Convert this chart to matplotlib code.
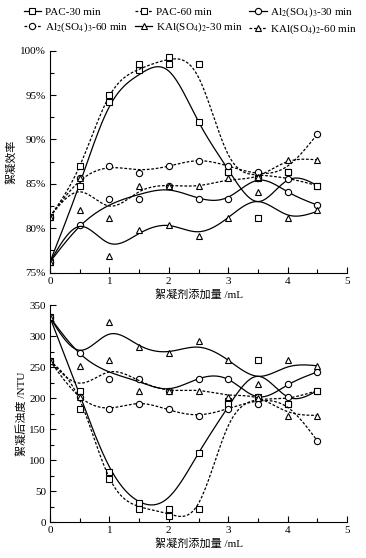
import numpy as np
import matplotlib
matplotlib.use("Agg")
import matplotlib.pyplot as plt
from matplotlib.ticker import MultipleLocator, FormatStrFormatter

plt.rcParams['font.family'] = ['Liberation Serif', 'Noto Sans CJK SC']
plt.rcParams['mathtext.fontset'] = 'stix'

dose = [0, 0.5, 1, 1.5, 2, 2.5, 3, 3.5, 4, 4.5]

# ---- top panel: removal efficiency (%) ----
# measured points
eff_pac30 = [76.2, 84.8, 94.2, 97.8, 98.5, 92.0, 86.3, 81.2, 86.3, 84.8]
eff_pac60 = [81.3, 87.0, 95.0, 98.5, 99.3, 98.5, 86.3, 85.6, 86.3, 84.8]
eff_al30 = [76.2, 80.4, 83.3, 83.3, 84.8, 83.3, 83.3, 85.6, 84.1, 82.6]
eff_al60 = [81.3, 85.6, 87.0, 86.2, 87.0, 87.6, 87.0, 86.3, 85.5, 90.6]
eff_kal30 = [76.2, 82.0, 76.9, 79.8, 80.4, 79.1, 81.2, 84.1, 81.2, 82.0]
eff_kal60 = [81.3, 85.6, 81.2, 84.8, 84.8, 84.8, 85.6, 85.8, 87.7, 87.7]
# fitted curves (read at each dose)
fit_eff_pac30 = [76.2, 85.0, 93.7, 97.3, 97.7, 92.0, 86.6, 83.0, 85.4, 84.8]
fit_eff_pac60 = [81.3, 87.0, 94.9, 97.9, 99.0, 97.0, 88.3, 86.0, 85.6, 84.8]
fit_eff_al30 = [76.2, 80.2, 82.6, 83.8, 84.3, 83.4, 83.5, 85.4, 84.1, 82.6]
fit_eff_al60 = [81.3, 85.3, 86.8, 86.6, 87.0, 87.6, 87.0, 86.2, 87.0, 90.6]
fit_eff_kal30 = [76.2, 80.2, 78.3, 79.4, 80.3, 79.6, 81.2, 83.0, 81.5, 81.9]
fit_eff_kal60 = [81.3, 84.1, 82.5, 84.1, 84.8, 84.8, 85.4, 85.9, 87.5, 87.7]

# ---- bottom panel: residual turbidity (NTU) ----
tur_pac30 = [330, 212, 81, 30, 20.5, 111, 195, 261, 191, 212]
tur_pac60 = [260, 182, 70, 20.5, 10, 20.5, 191, 201, 191, 212]
tur_al30 = [330, 272, 231, 231, 212, 231, 231, 202, 222, 242]
tur_al60 = [260, 202, 182, 191, 182, 171, 182, 191, 201, 131]
tur_kal30 = [330, 252, 323, 283, 272, 292, 262, 222, 262, 252]
tur_kal60 = [260, 202, 262, 212, 212, 212, 201, 200, 171, 171]
fit_tur_pac30 = [330, 205, 89, 33, 40, 111, 186, 235, 202, 212]
fit_tur_pac60 = [260, 197, 71, 25, 13, 30, 155, 197, 200, 212]
fit_tur_al30 = [330, 272, 242, 226, 215, 231, 230, 202, 221, 242]
fit_tur_al60 = [260, 202, 184, 191, 181, 173, 183, 195, 185, 131]
fit_tur_kal30 = [330, 277, 303, 285, 275, 282, 261, 235, 250, 252]
fit_tur_kal60 = [260, 224, 242, 228, 213, 212, 205, 200, 178, 172]

labels = ['PAC-30 min', 'PAC-60 min', r'Al$_2$(SO$_4$)$_3$-30 min',
          r'Al$_2$(SO$_4$)$_3$-60 min', r'KAl(SO$_4$)$_2$-30 min', r'KAl(SO$_4$)$_2$-60 min']
markers = ['s', 's', 'o', 'o', '^', '^']
dashed = [False, True, False, True, False, True]


def spline(x, y, n=300):
    # natural cubic spline through the read curve values
    x = np.asarray(x, float)
    y = np.asarray(y, float)
    k = len(x)
    h = np.diff(x)
    A = np.zeros((k, k))
    b = np.zeros(k)
    A[0, 0] = A[-1, -1] = 1
    for i in range(1, k - 1):
        A[i, i - 1] = h[i - 1]
        A[i, i] = 2 * (h[i - 1] + h[i])
        A[i, i + 1] = h[i]
        b[i] = 6 * ((y[i + 1] - y[i]) / h[i] - (y[i] - y[i - 1]) / h[i - 1])
    M = np.linalg.solve(A, b)
    xs = np.linspace(x[0], x[-1], n)
    j = np.clip(np.searchsorted(x, xs) - 1, 0, k - 2)
    t1 = x[j + 1] - xs
    t0 = xs - x[j]
    ys = (M[j] * t1**3 + M[j + 1] * t0**3) / (6 * h[j]) \
        + (y[j] / h[j] - M[j] * h[j] / 6) * t1 \
        + (y[j + 1] / h[j] - M[j + 1] * h[j] / 6) * t0
    return xs, ys


def draw(ax, pts, fits):
    handles = []
    for p, f, m, d, lab in zip(pts, fits, markers, dashed, labels):
        ls = (0, (2.2, 1.4)) if d else '-'
        xs, ys = spline(dose, f)
        ax.plot(xs, ys, color='black', lw=0.9, ls=ls)
        ax.plot(dose, p, ls='none', marker=m, ms=4.5, mfc='white', mec='black', mew=0.8)
        h, = ax.plot([], [], color='black', lw=0.9, ls=ls, marker=m, ms=4.5,
                     mfc='white', mec='black', mew=0.8, label=lab)
        handles.append(h)
    ax.spines['top'].set_visible(False)
    ax.spines['right'].set_visible(False)
    ax.set_xlim(0, 5)
    ax.xaxis.set_major_locator(MultipleLocator(1))
    ax.xaxis.set_minor_locator(MultipleLocator(0.5))
    ax.tick_params(which='both', direction='in', labelsize=8, pad=3)
    ax.tick_params(which='major', length=4, width=0.8)
    ax.tick_params(which='minor', length=3, width=0.8)
    ax.set_xlabel('絮凝剂添加量 /mL', fontsize=8, labelpad=2)
    return handles


fig = plt.figure(figsize=(3.66, 5.58), dpi=100)
ax1 = fig.add_axes([0.1366, 0.5115, 0.8115, 0.3977])
ax2 = fig.add_axes([0.1366, 0.0645, 0.8115, 0.3889])

hs = draw(ax1, [eff_pac30, eff_pac60, eff_al30, eff_al60, eff_kal30, eff_kal60],
          [fit_eff_pac30, fit_eff_pac60, fit_eff_al30, fit_eff_al60, fit_eff_kal30, fit_eff_kal60])
ax1.set_ylim(75, 100)
ax1.yaxis.set_major_locator(MultipleLocator(5))
ax1.yaxis.set_minor_locator(MultipleLocator(2.5))
ax1.yaxis.set_major_formatter(FormatStrFormatter('%d%%'))
ax1.set_ylabel('絮凝效率', fontsize=8, labelpad=2)

draw(ax2, [tur_pac30, tur_pac60, tur_al30, tur_al60, tur_kal30, tur_kal60],
     [fit_tur_pac30, fit_tur_pac60, fit_tur_al30, fit_tur_al60, fit_tur_kal30, fit_tur_kal60])
ax2.set_ylim(0, 350)
ax2.yaxis.set_major_locator(MultipleLocator(50))
ax2.yaxis.set_minor_locator(MultipleLocator(25))
ax2.set_ylabel('絮凝后浊度 /NTU', fontsize=8, labelpad=2)

order = [0, 3, 1, 4, 2, 5]
fig.legend([hs[i] for i in order], [labels[i] for i in order], ncol=3,
           loc='upper center', bbox_to_anchor=(0.52, 1.008), frameon=False,
           fontsize=8, handlelength=1.6, handletextpad=0.3, columnspacing=0.6,
           labelspacing=0.35)

fig.savefig('out.png', dpi=100)
